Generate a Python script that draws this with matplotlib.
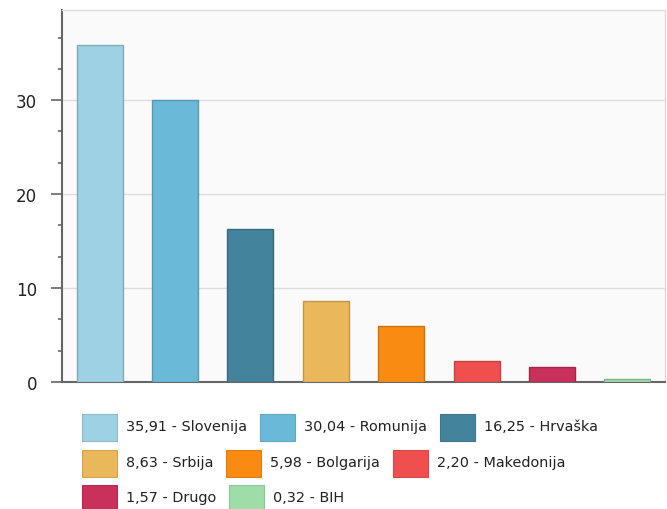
import numpy as np
import matplotlib
matplotlib.use("Agg")
import matplotlib.pyplot as plt
from matplotlib.patches import Rectangle
from matplotlib.ticker import MultipleLocator
from matplotlib.colors import to_rgb

# podatki
countries = ["Slovenija", "Romunija", "Hrvaška", "Srbija", "Bolgarija",
             "Makedonija", "Drugo", "BIH"]
values = [35.91, 30.04, 16.25, 8.63, 5.98, 2.20, 1.57, 0.32]
colors = ["#9ed1e3", "#6bb9d8", "#44839c", "#ebb75b", "#f98b12",
          "#f04f50", "#c9305a", "#9edca8"]
legend_rows = [3, 3, 2]

W, H = 667, 510
plt.rcParams['font.family'] = ['DejaVu Sans']
fig = plt.figure(figsize=(W / 100, H / 100), dpi=100)
fig.patch.set_facecolor("white")

ax = fig.add_axes([62 / W, 1 - 383 / H, (665 - 62) / W, (383 - 11) / H])
ax.set_facecolor("#fafafa")


def darker(c, f=0.82):
    r, g, b = to_rgb(c)
    return (r * f, g * f, b * f)


x = np.arange(len(values))
ax.bar(x, values, width=0.61, color=colors,
       edgecolor=[darker(c) for c in colors], linewidth=1, zorder=3)

ax.set_xlim(-0.5, len(values) - 0.5)
ax.set_ylim(0, 39.6)
ax.set_yticks([0, 10, 20, 30])
ax.yaxis.set_minor_locator(MultipleLocator(10 / 3))
ax.set_xticks([])
ax.grid(axis="y", color="#dcdcdc", linewidth=1, zorder=0)
ax.tick_params(axis="y", which="major", length=8, width=1.2, color="#666666",
               labelsize=12, labelcolor="#222222", pad=10)
ax.tick_params(axis="y", which="minor", length=3, width=1.2, color="#666666")

for s in ("left", "bottom"):
    ax.spines[s].set_color("#666666")
    ax.spines[s].set_linewidth(1.5)
for s in ("top", "right"):
    ax.spines[s].set_color("#dddddd")
    ax.spines[s].set_linewidth(1)

# legenda (ročna postavitev v vrsticah)
renderer = fig.canvas.get_renderer()
row_y = [428, 464, 499]
i = 0
for r, n in enumerate(legend_rows):
    xp = 82
    yc = row_y[r]
    for _ in range(n):
        fig.add_artist(Rectangle((xp / W, 1 - (yc + 13.5) / H), 35 / W, 27 / H,
                                 transform=fig.transFigure,
                                 facecolor=colors[i], edgecolor=darker(colors[i], 0.9),
                                 linewidth=0.8))
        lbl = f"{values[i]:.2f}".replace(".", ",") + " - " + countries[i]
        t = fig.text((xp + 44) / W, 1 - (yc - 1) / H, lbl, fontsize=10.4,
                     color="#222222", va="center", ha="left")
        w = t.get_window_extent(renderer).width
        xp = xp + 44 + w + 13
        i += 1

fig.savefig("out.png", dpi=100)
